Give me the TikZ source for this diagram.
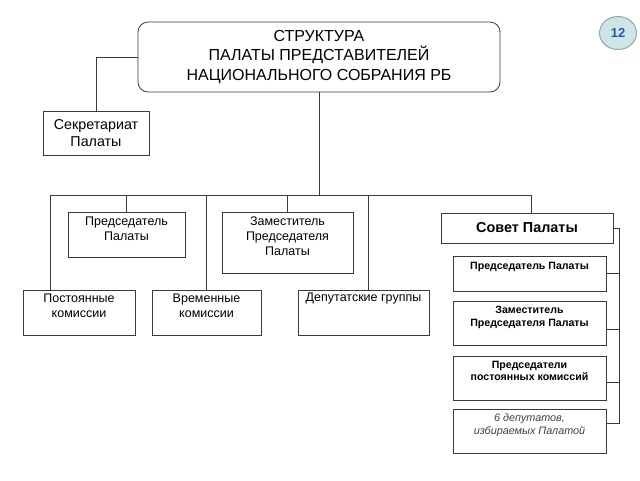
\documentclass[tikz,border=0pt]{standalone}
\usepackage{fontspec}
\setmainfont{Liberation Sans}
\usetikzlibrary{shapes.geometric}
\definecolor{linec}{HTML}{3A3A3A}
\definecolor{badgefill}{HTML}{CFE4E6}
\definecolor{badgeline}{HTML}{8FA8AA}
\definecolor{badgetext}{HTML}{1E5FA8}
\definecolor{greytext}{HTML}{404040}
\begin{document}
\begin{tikzpicture}[x=1pt,y=-1pt,
  box/.style={draw=linec, line width=0.8pt, inner sep=0pt, fill=white},
  conn/.style={draw=linec, line width=0.8pt},
  txt/.style={anchor=north, align=center, inner sep=0pt, font=\fontsize{12.5}{15}\selectfont},
  stxt/.style={anchor=north, align=center, inner sep=0pt, font=\fontsize{10.6}{12.8}\selectfont\bfseries}
]
\useasboundingbox (0,0) rectangle (640,480);
% boxes
\node[box, rounded corners=10pt, minimum width=362pt, minimum height=70pt, align=center,
      font=\fontsize{16}{19.5}\selectfont] (top) at (319,57)
      {СТРУКТУРА\\ПАЛАТЫ ПРЕДСТАВИТЕЛЕЙ\\НАЦИОНАЛЬНОГО СОБРАНИЯ РБ};
\node[box, minimum width=106pt, minimum height=44pt, align=center,
      font=\fontsize{14.3}{16.5}\selectfont] (sec) at (96,133) {Секретариат\\Палаты};
\node[box, minimum width=117pt, minimum height=45pt] (pred) at (126.5,234.5) {};
\node[box, minimum width=131pt, minimum height=61pt] (zam) at (287.5,242.5) {};
\node[box, minimum width=112pt, minimum height=45pt] (post) at (79,312.5) {};
\node[box, minimum width=109pt, minimum height=45pt] (vrem) at (206.5,312.5) {};
\node[box, minimum width=131pt, minimum height=45pt] (dep) at (363.5,312.5) {};
\node[box, minimum width=172pt, minimum height=30pt, font=\fontsize{14.4}{16}\selectfont\bfseries] (sovet) at (527,228) {Совет Палаты};
\node[box, minimum width=153pt, minimum height=35pt] (s1) at (529.5,273.5) {};
\node[box, minimum width=153pt, minimum height=44pt] (s2) at (529.5,323) {};
\node[box, minimum width=153pt, minimum height=44pt] (s3) at (529.5,378) {};
\node[box, minimum width=153pt, minimum height=44pt] (s4) at (529.5,431) {};
% texts
\node[txt] (predt) at ([yshift=-5pt]pred.north) {Председатель\\Палаты};
\node[txt] (zamt) at ([yshift=-5pt]zam.north) {Заместитель\\Председателя\\Палаты};
\node[txt] (postt) at ([yshift=-4pt]post.north) {Постоянные\\комиссии};
\node[txt] (vremt) at ([yshift=-4pt]vrem.north) {Временные\\комиссии};
\node[txt] (dept) at ([yshift=-3.5pt]dep.north) {Депутатские группы};
\node[stxt] (s1t) at ([yshift=-6pt]s1.north) {Председатель Палаты};
\node[stxt] (s2t) at ([yshift=-5pt]s2.north) {Заместитель\\Председателя Палаты};
\node[stxt] (s3t) at ([yshift=-5pt]s3.north) {Председатели\\постоянных комиссий};
\node[txt, font=\fontsize{10.8}{12.8}\selectfont\itshape, text=greytext] (s4t) at ([yshift=-5pt]s4.north) {6 депутатов,\\избираемых Палатой};
% badge
\node[ellipse, draw=badgeline, line width=1pt, fill=badgefill, minimum width=37pt, minimum height=33pt,
      inner sep=0pt, text=badgetext, font=\fontsize{13}{15}\selectfont\bfseries] (badge) at (618,33) {12};
% connectors
\coordinate (busL) at (50,195);
\coordinate (busR) at (531,195);
\coordinate (tdep) at (368,195);
\coordinate (brT) at (619,228);
\coordinate (brB) at (619,423);
\draw[conn] (top.west) -| (sec.north);
\draw[conn] (top.south) -- (top.south |- busL);
\draw[conn] (busL) -- (busR);
\draw[conn] (busL) -- (busL |- post.north);
\draw[conn] (pred.north |- busL) -- (pred.north);
\draw[conn] (vrem.north |- busL) -- (vrem.north);
\draw[conn] (zam.north |- busL) -- (zam.north);
\draw[conn] (tdep) -- (tdep |- dep.north);
\draw[conn] (busR) -- (busR |- sovet.north);
\draw[conn] (sovet.east) -- (brT) -- (brB) -- (brB -| s4.east);
\draw[conn] (s1.east) -- (s1.east -| brT);
\draw[conn] ([yshift=-6pt]s2.east) -- ([yshift=-6pt]s2.east -| brT);
\draw[conn] ([yshift=-4pt]s3.east) -- ([yshift=-4pt]s3.east -| brT);
\end{tikzpicture}
\end{document}
